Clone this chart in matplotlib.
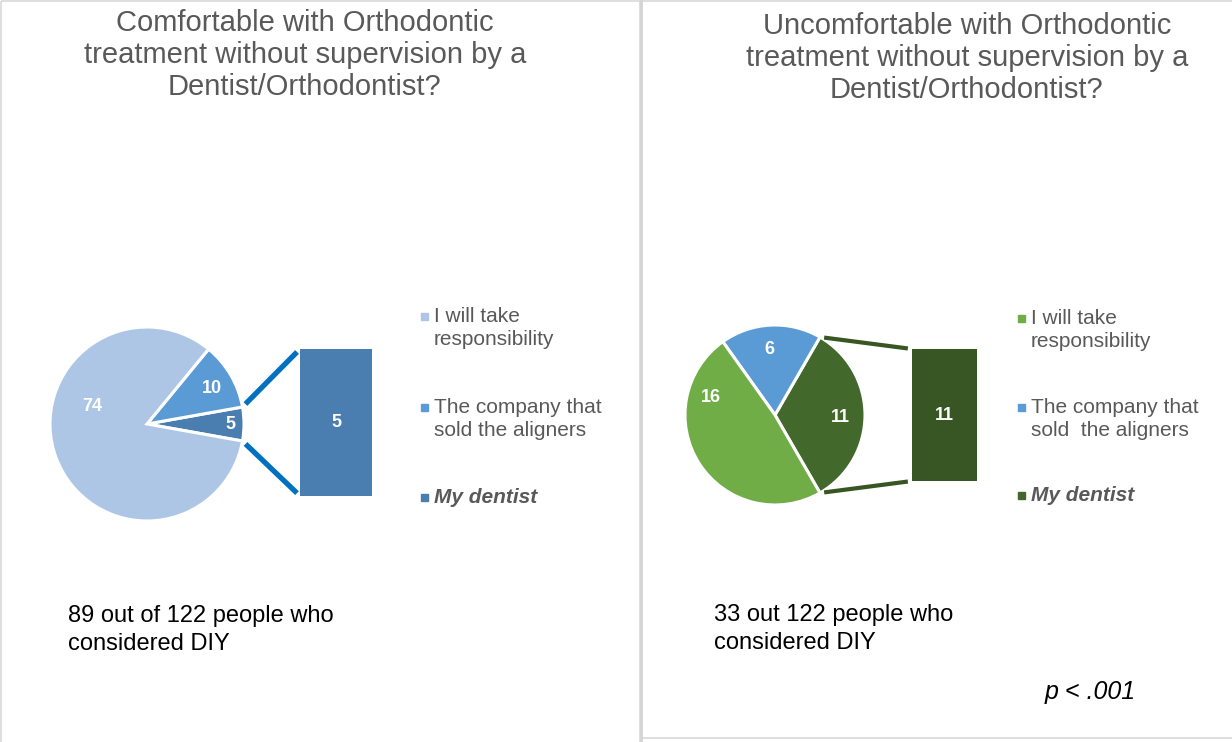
import numpy as np
import matplotlib
matplotlib.use('Agg')
import matplotlib.pyplot as plt
from matplotlib.patches import Rectangle, ConnectionPatch

plt.rcParams['font.family'] = ['Liberation Sans', 'DejaVu Sans']

# answers, in legend order
answers = ['I will take\nresponsibility', 'The company that\nsold the aligners', 'My dentist']
answers_r = ['I will take\nresponsibility', 'The company that\nsold  the aligners', 'My dentist']

comfortable = [74, 10, 5]
uncomfortable = [16, 6, 11]

titles = ['Comfortable with Orthodontic\ntreatment without supervision by a\nDentist/Orthodontist?',
          'Uncomfortable with Orthodontic\ntreatment without supervision by a\nDentist/Orthodontist?']
notes = ['89 out of 122 people who\nconsidered DIY', '33 out 122 people who\nconsidered DIY']
p_text = 'p < .001'

colors_l = ['#AEC6E6', '#5B9BD5', '#4A7EB0']
colors_r = ['#70AD47', '#5B9BD5', '#43682B']
bar_col = ['#4A7EB0', '#375623']
link_col = ['#0070C0', '#375623']

W, H = 1232, 742
fig = plt.figure(figsize=(W / 100, H / 100), dpi=100)

bg = fig.add_axes([0, 0, 1, 1])
bg.set_xlim(0, W)
bg.set_ylim(H, 0)
bg.axis('off')

# chart frames
bg.add_patch(Rectangle((1, 1), 639, 760, fill=False, edgecolor='#D9D9D9', linewidth=1.2))
bg.add_patch(Rectangle((642, 1), 600, 737, fill=False, edgecolor='#D9D9D9', linewidth=1.2))
bg.plot([640.5, 640.5], [0, H], color='#D4D4D4', linewidth=2)


def px_axes(x0, y0, x1, y1):
    return fig.add_axes([x0 / W, 1 - y1 / H, (x1 - x0) / W, (y1 - y0) / H])


def pie_of_pie(vals, colors, center, r, bar_box, bcolor, lcolor, lw, label_pos):
    cx, cy = center
    lim = 1.1
    ax = px_axes(cx - lim * r, cy - lim * r, cx + lim * r, cy + lim * r)
    total = sum(vals)
    # split slice is centred on the right-hand side
    start = -vals[-1] / total * 180.0
    ax.pie(vals[::-1], colors=colors[::-1], startangle=start, counterclock=True,
           radius=1, wedgeprops=dict(edgecolor='white', linewidth=2.2))
    ax.set_xlim(-lim, lim)
    ax.set_ylim(-lim, lim)
    ax.set_aspect('equal')
    for v, (lx, ly) in zip(vals, label_pos):
        ax.text(lx, ly, str(v), color='white', fontsize=13, fontweight='bold',
                ha='center', va='center')

    bax = px_axes(*bar_box)
    bars = bax.bar(0, vals[-1], width=1, color=bcolor)
    bax.set_xlim(-0.5, 0.5)
    bax.set_ylim(0, vals[-1])
    bax.axis('off')
    bax.bar_label(bars, labels=[str(vals[-1])], label_type='center', color='white',
                  fontsize=13, fontweight='bold')

    a = np.deg2rad(abs(start))
    for sgn, yb in [(1, 1), (-1, 0)]:
        con = ConnectionPatch(xyA=(np.cos(a), sgn * np.sin(a)), coordsA=ax.transData,
                              xyB=(0, yb), coordsB=bax.transAxes,
                              color=lcolor, linewidth=lw, capstyle='butt',
                              shrinkA=3, shrinkB=3)
        fig.add_artist(con)


pie_of_pie(comfortable, colors_l, (147, 424), 97, (300, 349, 372, 496),
           bar_col[0], link_col[0], 3.8,
           [(-0.56, 0.18), (0.67, 0.37), (0.86, -0.01)])
pie_of_pie(uncomfortable, colors_r, (775, 415), 90, (912, 349, 977, 481),
           bar_col[1], link_col[1], 3.0,
           [(-0.71, 0.19), (-0.06, 0.73), (0.73, -0.03)])

# titles
bg.text(305, 55, titles[0], ha='center', va='center', fontsize=21, color='#595959',
        linespacing=1.17)
bg.text(967, 58, titles[1], ha='center', va='center', fontsize=21, color='#595959',
        linespacing=1.17)


def legend(x_mark, x_text, ys, labels, colors):
    for y, lab, c in zip(ys, labels, colors):
        bg.add_patch(Rectangle((x_mark - 3.5, y - 3.5), 7, 7, color=c))
        style = dict(fontsize=15, color='#595959', ha='left', va='top', linespacing=1.26)
        if lab == 'My dentist':
            style.update(fontweight='bold', fontstyle='italic')
        bg.text(x_text, y - 9, lab, **style)


legend(424, 434, [316, 407, 497], answers, colors_l)
legend(1021, 1031, [318, 407, 495], answers_r, colors_r)

bg.text(68, 630, notes[0], ha='left', va='center', fontsize=17, color='black',
        linespacing=1.32)
bg.text(714, 629, notes[1], ha='left', va='center', fontsize=17, color='black',
        linespacing=1.32)
bg.text(1045, 692, p_text, ha='left', va='center', fontsize=18, color='black',
        fontstyle='italic')

fig.savefig('out.png', dpi=100, facecolor='white')
